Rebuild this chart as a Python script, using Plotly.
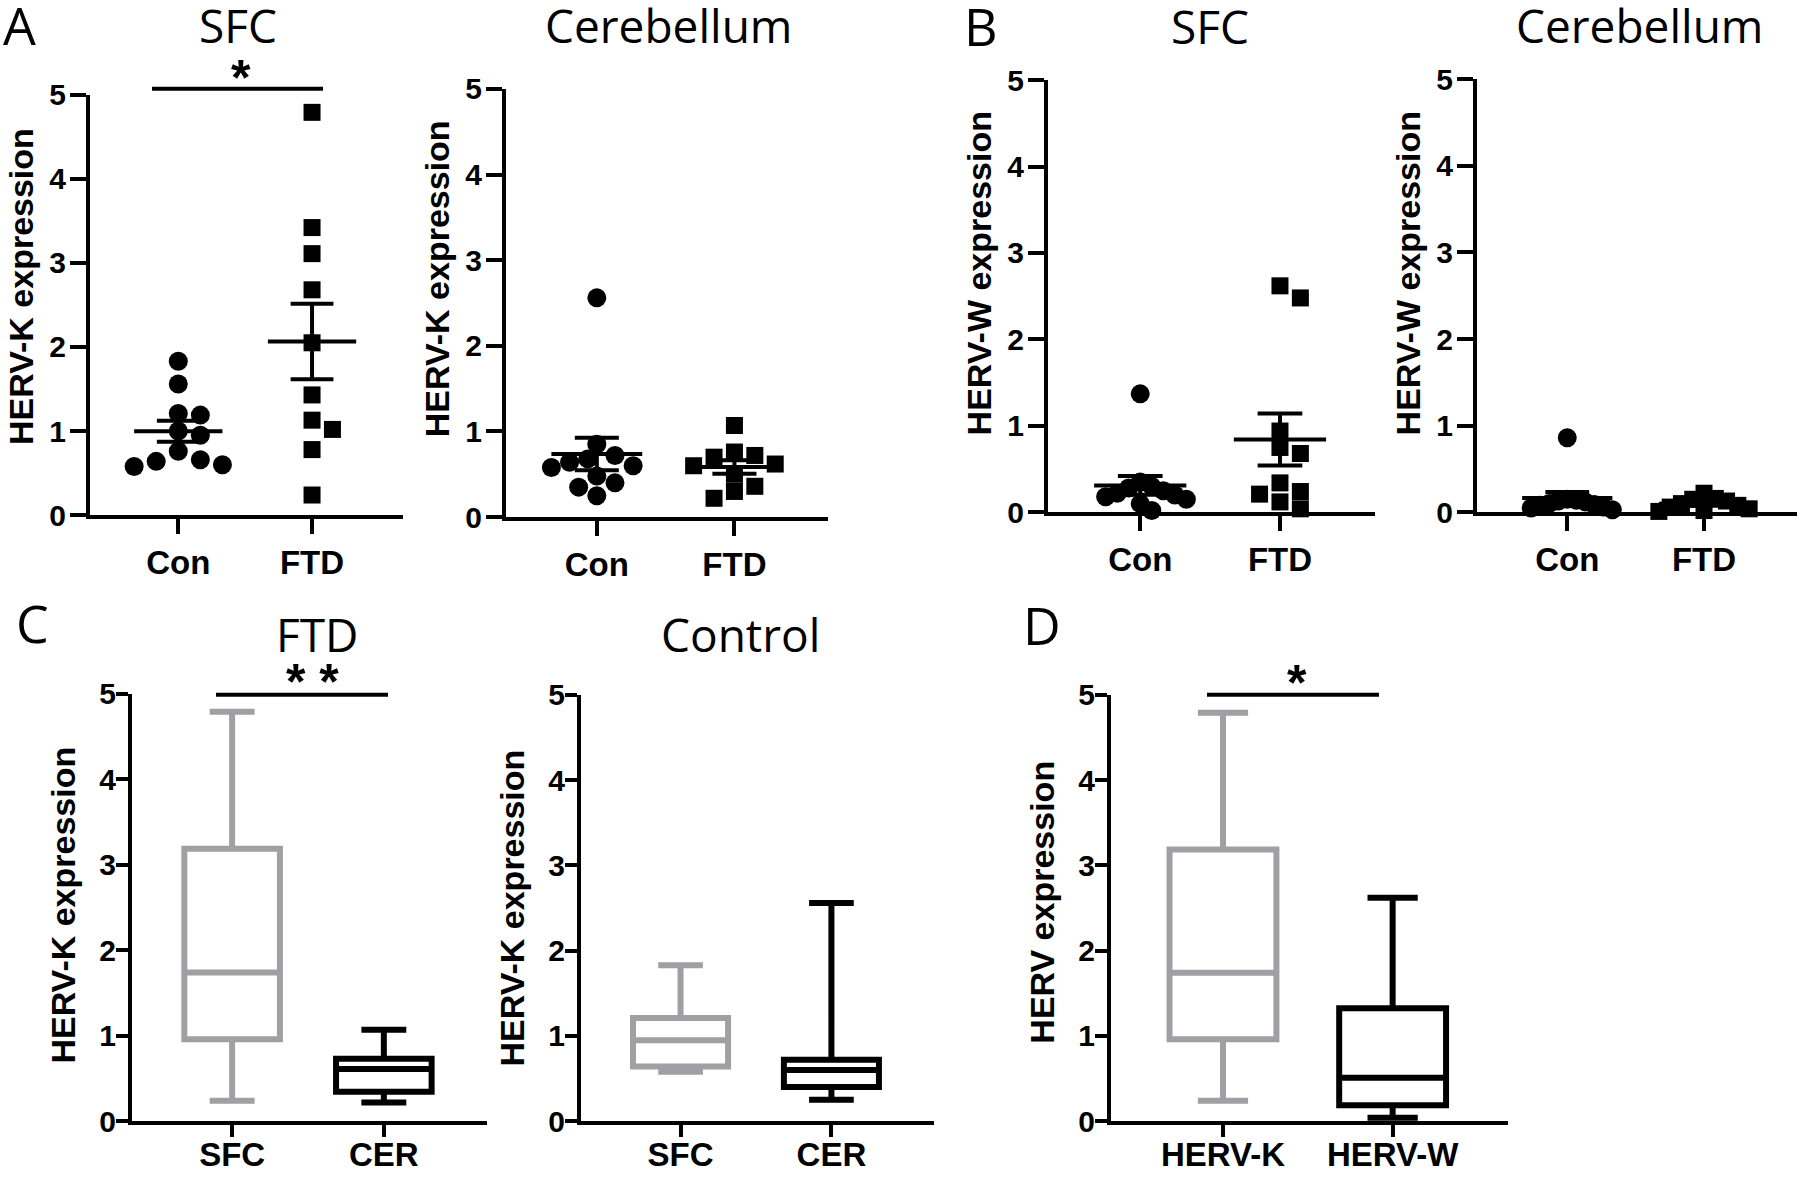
import numpy as np
import plotly.graph_objects as go

# ---- data ----
# HERV-K expression, superior frontal cortex
k_sfc_con = [1.83, 1.56, 1.21, 1.19, 1.00, 0.95, 0.76, 0.66, 0.58, 0.60, 0.64]
k_sfc_ftd = [4.79, 3.42, 3.11, 2.68, 2.05, 1.43, 1.13, 1.02, 0.78, 0.24]
# HERV-K expression, cerebellum
k_cer_con = [2.56, 0.85, 0.72, 0.68, 0.64, 0.60, 0.58, 0.48, 0.40, 0.35, 0.25]
k_cer_ftd = [1.07, 0.76, 0.72, 0.70, 0.62, 0.60, 0.50, 0.36, 0.30, 0.22]
# HERV-W expression, superior frontal cortex
w_sfc_con = [1.37, 0.35, 0.30, 0.28, 0.25, 0.22, 0.20, 0.18, 0.15, 0.10, 0.02]
w_sfc_ftd = [2.62, 2.48, 0.94, 0.75, 0.68, 0.34, 0.24, 0.21, 0.12, 0.04]
# HERV-W expression, cerebellum
w_cer_con = [0.86, 0.15, 0.14, 0.13, 0.12, 0.10, 0.09, 0.08, 0.06, 0.05, 0.03]
w_cer_ftd = [0.22, 0.16, 0.15, 0.13, 0.10, 0.08, 0.06, 0.04, 0.02, 0.01]

group_labels = ["Con", "FTD"]
region_labels = ["SFC", "CER"]
herv_labels = ["HERV-K", "HERV-W"]
y_ticks = [0, 1, 2, 3, 4, 5]

# ---- layout geometry (pixels of the 1800x1178 page) ----
W, H = 1800, 1178
XR = [-0.66, 1.68]
panels = [
    dict(x0=90, x1=403, top=80, bottom=513, title_y=278),      # A SFC
    dict(x0=506, x1=828, top=74, bottom=515, title_y=270),     # A cerebellum
    dict(x0=1048, x1=1375, top=65, bottom=510, title_y=264),   # B SFC
    dict(x0=1477, x1=1797, top=64, bottom=510, title_y=264),   # B cerebellum
    dict(x0=132, x1=487, top=697, bottom=1137, title_y=915),   # C FTD
    dict(x0=581, x1=934, top=698, bottom=1137, title_y=918),   # C control
    dict(x0=1111, x1=1508, top=698, bottom=1137, title_y=912), # D
]
GREY = "#a0a0a4"
TICK_FONT = "Liberation Sans, Arial, sans-serif"
TITLE_FONT = "Open Sans, sans-serif"


def px(x):
    return x / W


def py(y):
    return 1 - y / H


def swarm(vals, xscale, yscale, diam, maxspread=0.33):
    """simple beeswarm: horizontal offsets (data units), squeezed to a max spread"""
    placed = []
    res = np.zeros(len(vals))
    step = diam * 0.6
    for i in np.argsort(vals)[::-1]:
        yv = vals[i] * yscale
        k = 0
        while True:
            cand = ((k + 1) // 2) * step * (1 if k % 2 else -1) if k else 0.0
            if all((cand - a) ** 2 + (yv - b) ** 2 >= (diam * 0.95) ** 2 for a, b in placed):
                break
            k += 1
        placed.append((cand, yv))
        res[i] = cand / xscale
    far = np.abs(res).max()
    if far > maxspread:
        res = res * maxspread / far
    return res


fig = go.Figure()


def refs(i):
    return ("x" if i == 0 else f"x{i+1}"), ("y" if i == 0 else f"y{i+1}")


def axes(i, ticktext, ylabel, bottom_row=False):
    p = panels[i]
    xname = "xaxis" if i == 0 else f"xaxis{i+1}"
    yname = "yaxis" if i == 0 else f"yaxis{i+1}"
    xr, yr = refs(i)
    fig.layout[xname] = dict(
        domain=[px(p["x0"]), px(p["x1"])], range=XR, anchor=yr,
        tickvals=[0, 1], ticktext=ticktext, showgrid=False, zeroline=False,
        showline=True, linecolor="black", linewidth=4,
        ticks="outside", ticklen=12 if bottom_row else 15, tickwidth=4, tickcolor="black",
        ticklabelstandoff=-11 if bottom_row else 0,
        tickfont=dict(family=TICK_FONT, size=33, color="black", weight="bold"),
        fixedrange=True)
    fig.layout[yname] = dict(
        domain=[py(p["bottom"]), py(p["top"])], range=[0, 5], anchor=xr,
        tickvals=y_ticks, showgrid=False, zeroline=False,
        showline=True, linecolor="black", linewidth=4,
        ticks="outside", ticklen=12 if bottom_row else 16, tickwidth=4, tickcolor="black",
        ticklabelstandoff=-6 if bottom_row else -2,
        tickfont=dict(family=TICK_FONT, size=30, color="black", weight="bold"),
        fixedrange=True)
    fig.add_annotation(
        x=px(p["x0"] - 69), y=py(p["title_y"]),
        xref="paper", yref="paper", xanchor="center", yanchor="middle",
        text=ylabel, textangle=-90, showarrow=False,
        font=dict(family=TICK_FONT, size=34, color="black", weight="bold"))


def scatter_panel(i, groups, ylabel):
    xr, yr = refs(i)
    p = panels[i]
    xscale = (p["x1"] - p["x0"]) / (XR[1] - XR[0])
    yscale = (p["bottom"] - p["top"]) / 5
    for c, (vals, sym, size) in enumerate(zip(groups, ["circle", "square"], [19, 17])):
        v = np.array(vals)
        offs = swarm(v, xscale, yscale, size)
        fig.add_trace(go.Scatter(
            x=c + offs, y=v, mode="markers",
            marker=dict(symbol=sym, size=size, color="black", line_width=0),
            cliponaxis=False, xaxis=xr, yaxis=yr))
        m = v.mean()
        s = v.std(ddof=1) / np.sqrt(len(v))
        fig.add_trace(go.Scatter(
            x=[c - 0.33, c + 0.33, None, c - 0.16, c + 0.16, None,
               c - 0.16, c + 0.16, None, c, c],
            y=[m, m, None, m + s, m + s, None, m - s, m - s, None, m - s, m + s],
            mode="lines", line=dict(color="black", width=4),
            cliponaxis=False, xaxis=xr, yaxis=yr))
    axes(i, group_labels, ylabel)


def box_panel(i, groups, ticktext, ylabel):
    xr, yr = refs(i)
    for c, (vals, col) in enumerate(zip(groups, [GREY, "black"])):
        v = np.array(vals)
        q1, med, q3 = np.percentile(v, [25, 50, 75], method="weibull")
        fig.add_trace(go.Box(
            x=[c], q1=[q1], median=[med], q3=[q3],
            lowerfence=[v.min()], upperfence=[v.max()],
            width=0.63, whiskerwidth=0.47, boxpoints=False,
            line=dict(color=col, width=6), fillcolor="white",
            xaxis=xr, yaxis=yr))
    axes(i, ticktext, ylabel, bottom_row=True)


scatter_panel(0, [k_sfc_con, k_sfc_ftd], "HERV-K expression")
scatter_panel(1, [k_cer_con, k_cer_ftd], "HERV-K expression")
scatter_panel(2, [w_sfc_con, w_sfc_ftd], "HERV-W expression")
scatter_panel(3, [w_cer_con, w_cer_ftd], "HERV-W expression")
box_panel(4, [k_sfc_ftd, k_cer_ftd], region_labels, "HERV-K expression")
box_panel(5, [k_sfc_con, k_cer_con], region_labels, "HERV-K expression")
box_panel(6, [k_sfc_ftd, w_sfc_ftd], herv_labels, "HERV expression")

# panel titles and letters
for text, x, y in [("SFC", 238, 8), ("Cerebellum", 668, 8), ("SFC", 1210, 9),
                   ("Cerebellum", 1639, 8), ("FTD", 317, 635), ("Control", 740, 635)]:
    fig.add_annotation(x=px(x), y=py(y), xref="paper", yref="paper",
                       xanchor="center", yanchor="middle", text=text, showarrow=False,
                       font=dict(family=TITLE_FONT, size=46, color="black"))
for text, x, y in [("A", 19, 8), ("B", 981, 9), ("C", 32, 623), ("D", 1042, 626)]:
    fig.add_annotation(x=px(x), y=py(y), xref="paper", yref="paper",
                       xanchor="center", yanchor="middle", text=text, showarrow=False,
                       font=dict(family=TITLE_FONT, size=52, color="black"))

# significance bars
for x0, x1, y, star, sx, sy in [(152, 323, 74, "*", 241, 63), (216, 388, 698, "* *", 312, 685),
                                (1207, 1379, 698, "*", 1297, 686)]:
    fig.add_shape(type="line", xref="paper", yref="paper", x0=px(x0), x1=px(x1),
                  y0=py(y), y1=py(y), line=dict(color="black", width=4))
    fig.add_annotation(x=px(sx), y=py(sy), xref="paper", yref="paper",
                       xanchor="center", yanchor="middle", text=star, showarrow=False,
                       font=dict(family=TICK_FONT, size=50, color="black", weight="bold"))

fig.update_layout(
    width=W, height=H, margin=dict(l=0, r=0, t=0, b=0),
    plot_bgcolor="white", paper_bgcolor="white", showlegend=False)

fig.write_html("out.html", config={"displayModeBar": False},
               post_script="document.body.style.margin='0';")
